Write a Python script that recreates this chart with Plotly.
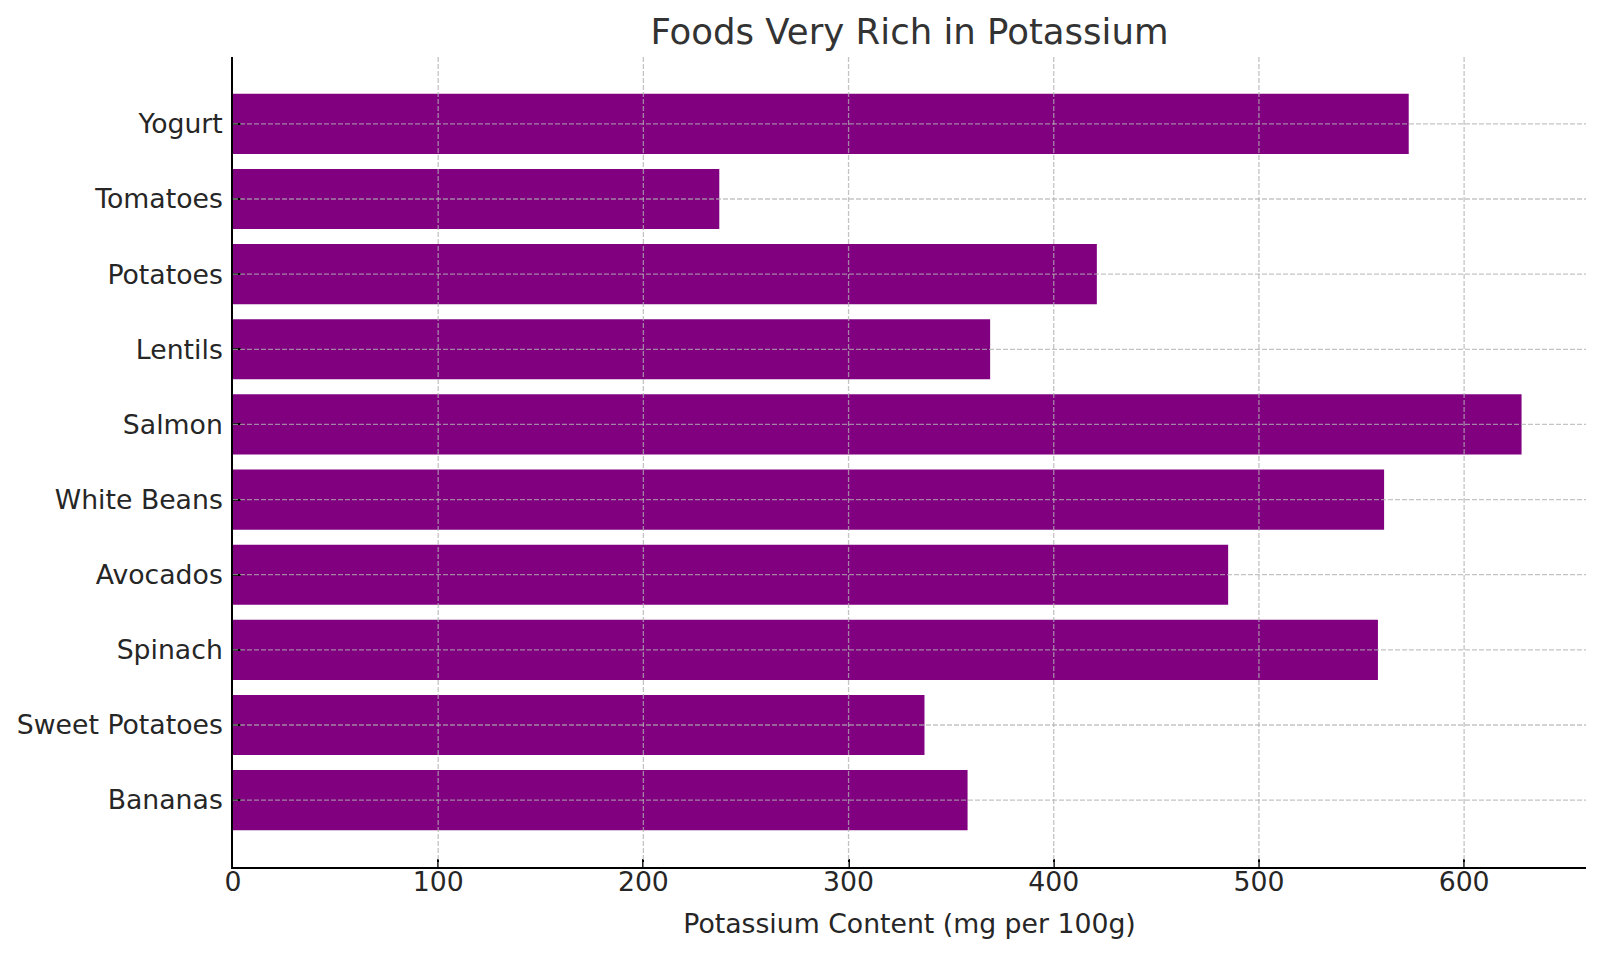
import plotly.graph_objects as go

foods = ["Bananas", "Sweet Potatoes", "Spinach", "Avocados", "White Beans",
         "Salmon", "Lentils", "Potatoes", "Tomatoes", "Yogurt"]
potassium = [358, 337, 558, 485, 561, 628, 369, 421, 237, 573]
x_ticks = [0, 100, 200, 300, 400, 500, 600]

FONT = "DejaVu Sans"
TICK_SIZE = 26.7
TITLE_SIZE = 35.5
GRID = "rgba(176,176,176,0.75)"

fig = go.Figure(
    go.Bar(
        x=potassium,
        y=list(range(len(foods))),
        orientation="h",
        marker=dict(color="#800080", line=dict(width=0)),
        width=0.8,
    )
)

shapes = []
for t in x_ticks[1:]:
    shapes.append(dict(type="line", xref="x", yref="paper", x0=t, x1=t, y0=0, y1=1,
                       line=dict(color=GRID, width=1.3, dash="5px,2px"), layer="above"))
for i in range(len(foods)):
    shapes.append(dict(type="line", xref="paper", yref="y", x0=0, x1=1, y0=i, y1=i,
                       line=dict(color=GRID, width=1.3, dash="5px,2px"), layer="above"))

fig.update_layout(
    width=1600, height=954, autosize=False,
    margin=dict(l=233, r=14, t=57, b=87),
    plot_bgcolor="white", paper_bgcolor="white",
    font=dict(family=FONT, color="#262626"),
    showlegend=False,
    shapes=shapes,
    title=dict(text="Foods Very Rich in Potassium", x=0.5, xref="paper", xanchor="center",
               y=1, yref="paper", yanchor="bottom", pad=dict(b=13),
               font=dict(size=TITLE_SIZE, color="#333333", family=FONT)),
    xaxis=dict(
        range=[0, max(potassium) * 1.05],
        tickvals=x_ticks,
        ticks="inside", ticklen=8, tickwidth=1.5, tickcolor="black",
        showline=True, linecolor="black", linewidth=1.7,
        showgrid=False, zeroline=False,
        ticklabelstandoff=-10,
        tickfont=dict(size=TICK_SIZE, family=FONT, color="#262626"),
        title=dict(text="Potassium Content (mg per 100g)", standoff=18,
                   font=dict(size=TICK_SIZE, family=FONT, color="#262626")),
    ),
    yaxis=dict(
        range=[-0.89, 9.89],
        tickvals=list(range(len(foods))),
        ticktext=foods,
        ticks="inside", ticklen=8, tickwidth=1.5, tickcolor="black",
        showline=True, linecolor="black", linewidth=1.7,
        showgrid=False, zeroline=False,
        ticklabelstandoff=3,
        tickfont=dict(size=TICK_SIZE, family=FONT, color="#262626"),
    ),
)

fig.write_html("out.html")
